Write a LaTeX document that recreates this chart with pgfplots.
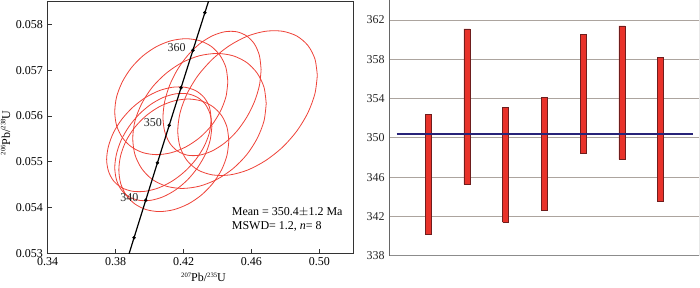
\documentclass[border=0pt]{standalone}
\usepackage{fontspec}
\setmainfont{Liberation Serif}
\usepackage{pgfplots}
\pgfplotsset{compat=1.18}
\definecolor{ellred}{RGB}{238,66,56}
\definecolor{barred}{RGB}{232,50,42}
\definecolor{baredge}{RGB}{110,30,30}
\definecolor{meanblue}{RGB}{40,35,120}
\definecolor{gridc}{RGB}{172,164,158}
\newcommand{\sups}[1]{\raisebox{0.85ex}{\fontsize{5}{5}\selectfont #1}}
\begin{document}
\begin{tikzpicture}[font=\fontsize{9}{10.8}\selectfont]
\useasboundingbox (0,0) rectangle (525pt,215.25pt);
% ---------------- left: concordia ----------------
\begin{axis}[at={(35.78pt,25.28pt)}, anchor=south west, scale only axis,
  width=229.2pt, height=188.9pt,
  xmin=0.34, xmax=0.52, ymin=0.053, ymax=0.0585,
  xtick={0.34,0.38,0.42,0.46,0.50},
  ytick={0.053,0.054,0.055,0.056,0.057,0.058},
  scaled ticks=false,
  x tick label style={/pgf/number format/.cd, fixed, fixed zerofill, precision=2},
  y tick label style={/pgf/number format/.cd, fixed, fixed zerofill, precision=3},
  /pgf/number format/assume math mode=true,
  tick align=inside, xtick pos=bottom, ytick pos=left, major tick length=3pt,
  axis line style={black!80, line width=0.6pt}, tick style={black!80, line width=0.6pt},
  xlabel={\sups{207}Pb/\sups{235}U},
  every axis x label/.style={at={(axis description cs:0.51,0)}, anchor=south, yshift=-25pt},
  ylabel={\sups{206}Pb/\sups{238}U},
  every axis y label/.style={at={(axis description cs:-0.138,0.478)}, rotate=90, anchor=center},
  clip=true]
% ellipses
\addplot[ellred, line width=0.6pt, smooth] coordinates {(.4461,.056748) (.4450,.057053) (.4416,.057315) (.4364,.057516) (.4295,.057643) (.4214,.057686) (.4128,.057643) (.4042,.057516) (.3962,.057315) (.3893,.057053) (.3840,.056748) (.3806,.056420) (.3795,.056092) (.3806,.055787) (.3840,.055525) (.3893,.055324) (.3962,.055197) (.4042,.055154) (.4128,.055197) (.4214,.055324) (.4295,.055525) (.4364,.055787) (.4416,.056092) (.4450,.056420) (.4461,.056748)};
\addplot[ellred, line width=0.6pt, smooth] coordinates {(.4657,.057010) (.4647,.057318) (.4618,.057569) (.4572,.057746) (.4513,.057838) (.4443,.057838) (.4368,.057746) (.4293,.057569) (.4224,.057318) (.4164,.057010) (.4118,.056667) (.4089,.056313) (.4079,.055970) (.4089,.055662) (.4118,.055411) (.4164,.055234) (.4224,.055142) (.4293,.055142) (.4368,.055234) (.4443,.055411) (.4513,.055662) (.4572,.055970) (.4618,.056313) (.4647,.056667) (.4657,.057010)};
\addplot[ellred, line width=0.6pt, smooth] coordinates {(.4988,.056886) (.4974,.057244) (.4933,.057536) (.4868,.057743) (.4783,.057849) (.4683,.057849) (.4577,.057743) (.4471,.057536) (.4372,.057244) (.4286,.056886) (.4221,.056487) (.4180,.056073) (.4166,.055674) (.4180,.055316) (.4221,.055024) (.4286,.054817) (.4372,.054711) (.4471,.054711) (.4577,.054817) (.4683,.055024) (.4783,.055316) (.4868,.055674) (.4933,.056073) (.4974,.056487) (.4988,.056886)};
\addplot[ellred, line width=0.6pt, smooth] coordinates {(.4687,.056271) (.4674,.056627) (.4634,.056932) (.4572,.057167) (.4491,.057314) (.4396,.057364) (.4294,.057314) (.4192,.057167) (.4098,.056932) (.4016,.056627) (.3954,.056271) (.3914,.055890) (.3901,.055509) (.3914,.055153) (.3954,.054848) (.4016,.054613) (.4098,.054466) (.4192,.054416) (.4294,.054466) (.4396,.054613) (.4491,.054848) (.4572,.055153) (.4634,.055509) (.4674,.055890) (.4687,.056271)};
\addplot[ellred, line width=0.6pt, smooth] coordinates {(.4363,.055929) (.4353,.056188) (.4322,.056399) (.4273,.056549) (.4209,.056626) (.4135,.056626) (.4055,.056549) (.3975,.056399) (.3901,.056188) (.3837,.055929) (.3788,.055640) (.3758,.055340) (.3747,.055051) (.3758,.054792) (.3788,.054581) (.3837,.054431) (.3901,.054354) (.3975,.054354) (.4055,.054431) (.4135,.054581) (.4209,.054792) (.4273,.055051) (.4322,.055340) (.4353,.055640) (.4363,.055929)};
\addplot[ellred, line width=0.6pt, smooth] coordinates {(.4367,.055769) (.4357,.056034) (.4329,.056251) (.4283,.056404) (.4224,.056483) (.4155,.056483) (.4081,.056404) (.4007,.056251) (.3938,.056034) (.3879,.055769) (.3833,.055473) (.3805,.055167) (.3795,.054871) (.3805,.054606) (.3833,.054389) (.3879,.054236) (.3938,.054157) (.4007,.054157) (.4081,.054236) (.4155,.054389) (.4224,.054606) (.4283,.054871) (.4329,.055167) (.4357,.055473) (.4367,.055769)};
\addplot[ellred, line width=0.6pt, smooth] coordinates {(.4467,.055458) (.4456,.055755) (.4424,.056009) (.4372,.056204) (.4305,.056327) (.4227,.056369) (.4143,.056327) (.4059,.056204) (.3981,.056009) (.3914,.055755) (.3862,.055458) (.3830,.055140) (.3819,.054822) (.3830,.054525) (.3862,.054271) (.3914,.054076) (.3981,.053953) (.4059,.053911) (.4143,.053953) (.4227,.054076) (.4305,.054271) (.4372,.054525) (.4424,.054822) (.4456,.055140) (.4467,.055458)};
% concordia
\addplot[black, line width=0.9pt, smooth] coordinates {(0.377230,0.051708) (0.384031,0.052524) (0.390863,0.053341) (0.397729,0.054158) (0.404629,0.054976) (0.411563,0.055795) (0.418531,0.056614) (0.425533,0.057434) (0.432570,0.058254) (0.439642,0.059075)};
\addplot[only marks, mark=*, mark size=1.1pt, mark options={fill=black, draw=black}] coordinates {(0.390863,0.053341) (0.397729,0.054158) (0.404629,0.054976) (0.411563,0.055795) (0.418531,0.056614) (0.425533,0.057434) (0.432570,0.058254)};
\node[anchor=east, xshift=-2pt, yshift=2.3pt, text=black!85] at (axis cs:0.425533,0.057434) {360};
\node[anchor=east, xshift=-2pt, yshift=2.3pt, text=black!85] at (axis cs:0.411563,0.055795) {350};
\node[anchor=east, xshift=-2pt, yshift=2.3pt, text=black!85] at (axis cs:0.397729,0.054158) {340};
\node[anchor=west, inner sep=0pt] at (axis cs:0.4483,0.053908) {Mean = 350.4$\pm$1.2 Ma};
\node[anchor=west, inner sep=0pt] at (axis cs:0.4483,0.053596) {MSWD= 1.2, \textit{n}= 8};
\end{axis}
% ---------------- right: age bars ----------------
\begin{axis}[at={(291.98pt,23.48pt)}, anchor=south west, scale only axis,
  width=232.5pt, height=191.5pt,
  xmin=0, xmax=8, ymin=338, ymax=364,
  axis x line*=bottom, axis y line*=left,
  xtick=\empty, ytick={338,342,346,350,354,358,362},
  ymajorgrids, grid style={gridc, line width=0.7pt},
  major tick length=0pt,
  /pgf/number format/assume math mode=true,
  y tick label style={text=black!85},
  x axis line style={black!45, line width=0.9pt},
  y axis line style={black!60, line width=0.7pt}]
\draw[black!25, line width=0.7pt] (rel axis cs:1,0) -- (rel axis cs:1,1);
\addplot[fill=barred, draw=baredge, line width=0.4pt] coordinates {(0.922,340.2) (1.078,340.2) (1.078,352.4) (0.922,352.4) (0.922,340.2)};
\addplot[fill=barred, draw=baredge, line width=0.4pt] coordinates {(1.922,345.3) (2.078,345.3) (2.078,361.1) (1.922,361.1) (1.922,345.3)};
\addplot[fill=barred, draw=baredge, line width=0.4pt] coordinates {(2.922,341.4) (3.078,341.4) (3.078,353.1) (2.922,353.1) (2.922,341.4)};
\addplot[fill=barred, draw=baredge, line width=0.4pt] coordinates {(3.922,342.6) (4.078,342.6) (4.078,354.1) (3.922,354.1) (3.922,342.6)};
\addplot[fill=barred, draw=baredge, line width=0.4pt] coordinates {(4.922,348.4) (5.078,348.4) (5.078,360.5) (4.922,360.5) (4.922,348.4)};
\addplot[fill=barred, draw=baredge, line width=0.4pt] coordinates {(5.922,347.8) (6.078,347.8) (6.078,361.4) (5.922,361.4) (5.922,347.8)};
\addplot[fill=barred, draw=baredge, line width=0.4pt] coordinates {(6.922,343.5) (7.078,343.5) (7.078,358.2) (6.922,358.2) (6.922,343.5)};
\addplot[meanblue, line width=1pt] coordinates {(0.19,350.4) (7.83,350.4)};
\end{axis}
\end{tikzpicture}
\end{document}
